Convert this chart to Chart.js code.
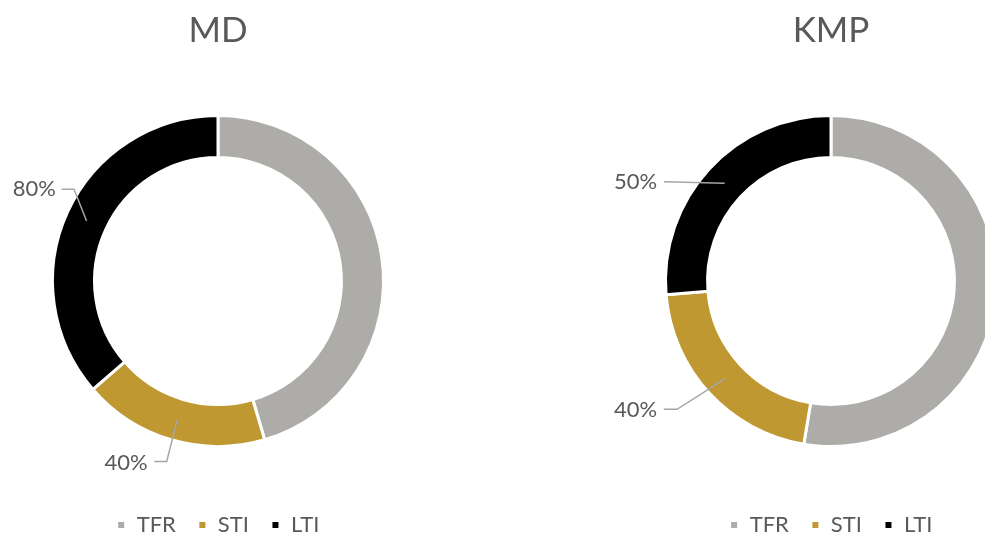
<!DOCTYPE html>
<html>
<head>
<meta charset="utf-8">
<script src="https://cdn.jsdelivr.net/npm/chart.js@4/dist/chart.umd.min.js"></script>
<style>
  html, body { margin: 0; padding: 0; background: #fff; overflow: hidden; width: 985px; height: 534px; }
  canvas { position: absolute; top: 0; }
  #mdChart { left: 0; }
  #kmpChart { left: 613px; }
</style>
</head>
<body>
<canvas id="mdChart" width="436" height="546"></canvas>
<canvas id="kmpChart" width="436" height="546"></canvas>
<script>
// data
const categories = ["TFR", "STI", "LTI"];
const mdValues = [100, 40, 80];
const kmpValues = [100, 40, 50];

const sliceColors = ["#ADACA9", "#BF9832", "#000000"];
const textColor = "#595959";
const fontFamily = "Lato, 'Open Sans', sans-serif";

// where each percent label sits, as multiples of the outer radius from the centre
// (elbow of the leader line, end of the leader line, text anchor)
const mdLabelLayout = [
  null,
  { elbow: [-0.31, 1.09], end: [-0.385, 1.09], text: [-0.425, 1.10] },
  { elbow: [-0.87, -0.555], end: [-0.945, -0.555], text: [-0.98, -0.555] },
];
const kmpLabelLayout = [
  null,
  { elbow: [-0.93, 0.775], end: [-1.01, 0.775], text: [-1.05, 0.78] },
  { elbow: null, end: [-1.01, -0.6], text: [-1.05, -0.6] },
];

const leaderLabels = {
  id: "leaderLabels",
  afterDatasetsDraw(chart, args, opts) {
    const ctx = chart.ctx;
    const meta = chart.getDatasetMeta(0);
    const values = chart.data.datasets[0].data;
    meta.data.forEach((arc, i) => {
      const lay = opts.layout[i];
      if (!lay) return;
      const p = arc.getProps(["x", "y", "startAngle", "endAngle", "innerRadius", "outerRadius"], true);
      const mid = (p.startAngle + p.endAngle) / 2;
      const rMid = (p.innerRadius + p.outerRadius) / 2;
      const R = p.outerRadius;
      const sx = p.x + Math.cos(mid) * rMid;
      const sy = p.y + Math.sin(mid) * rMid;
      ctx.save();
      ctx.strokeStyle = "#A6A6A6";
      ctx.lineWidth = 1.5;
      ctx.beginPath();
      ctx.moveTo(sx, sy);
      if (lay.elbow) ctx.lineTo(p.x + lay.elbow[0] * R, p.y + lay.elbow[1] * R);
      ctx.lineTo(p.x + lay.end[0] * R, p.y + lay.end[1] * R);
      ctx.stroke();
      ctx.fillStyle = textColor;
      ctx.font = "22px " + fontFamily;
      ctx.textAlign = "right";
      ctx.textBaseline = "middle";
      ctx.fillText(values[i] + "%", p.x + lay.text[0] * R, p.y + lay.text[1] * R);
      ctx.restore();
    });
  },
};

const makeDonut = (canvasID, title, values, labelLayout) => {
  const ctx = document.getElementById(canvasID);
  new Chart(ctx, {
    type: "doughnut",
    data: {
      labels: categories,
      datasets: [
        {
          data: values,
          backgroundColor: sliceColors,
          borderColor: "#ffffff",
          borderWidth: 3,
          hoverOffset: 0,
        },
      ],
    },
    options: {
      responsive: false,
      animation: false,
      radius: 165.5,
      cutout: "74.6%",
      layout: { padding: 0 },
      plugins: {
        title: {
          display: true,
          text: title,
          color: textColor,
          font: { family: fontFamily, size: 35, weight: "normal", lineHeight: 1.2 },
          padding: { top: 10, bottom: 18 },
        },
        legend: {
          position: "bottom",
          labels: {
            color: textColor,
            boxWidth: 9,
            boxHeight: 9,
            padding: 22,
            font: { family: fontFamily, size: 22 },
          },
        },
        tooltip: { enabled: false },
        leaderLabels: { layout: labelLayout },
      },
    },
    plugins: [leaderLabels],
  });
};

makeDonut("mdChart", "MD", mdValues, mdLabelLayout);
makeDonut("kmpChart", "KMP", kmpValues, kmpLabelLayout);
</script>
</body>
</html>
